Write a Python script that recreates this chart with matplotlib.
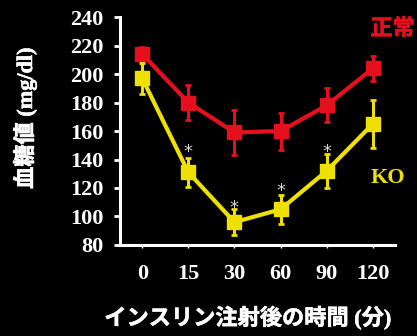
import matplotlib
matplotlib.use("Agg")
import matplotlib.pyplot as plt
import matplotlib.patheffects as pe

# data
time_labels = ["0", "15", "30", "60", "90", "120"]
normal_mean = [214, 180, 159, 160, 178, 204]
normal_err = [5, 12, 16, 13, 12, 9]
ko_mean = [197, 131, 96, 105, 132, 165]
ko_err = [11, 10, 9, 10, 12, 17]
star_idx = [1, 2, 3, 4]
star_y = [145, 106, 118, 145]

red = "#E60F1E"
yellow = "#EEE000"
fonts = ["Liberation Serif", "Noto Sans CJK JP", "DejaVu Sans"]
plt.rcParams["font.family"] = fonts
plt.rcParams["font.weight"] = "bold"

fig = plt.figure(figsize=(4.17, 3.36), dpi=100)
fig.patch.set_facecolor("black")
ax = fig.add_axes([0.288, 0.271, 0.659, 0.678])
ax.set_facecolor("black")

x = list(range(len(time_labels)))

ax.errorbar(x, normal_mean, yerr=normal_err, color=red, ecolor=red,
            lw=3, elinewidth=2.2, capsize=2, capthick=2,
            marker="s", ms=10.5, zorder=3)
ax.errorbar(x, ko_mean, yerr=ko_err, color=yellow, ecolor=yellow,
            lw=3, elinewidth=2.2, capsize=2, capthick=2,
            marker="s", ms=10.5, zorder=4)

for i, yv in zip(star_idx, star_y):
    ax.text(x[i], yv, "*", color="#d8d8d8", ha="center", va="center",
            fontsize=13, fontweight="normal", family="DejaVu Sans")

# a thin stroke makes the CJK glyphs a little heavier
bold_fx = lambda c: [pe.withStroke(linewidth=0.4, foreground=c)]

ax.text(5.43, 232, "正常", color=red, ha="center", va="center",
        fontsize=16, family=["Noto Sans CJK JP"], clip_on=False,
        path_effects=bold_fx(red))
ax.text(5.33, 127, "KO", color=yellow, ha="center", va="center",
        fontsize=16, clip_on=False)

ax.set_xlim(-0.48, 5.48)
ax.set_ylim(80, 240)
ax.set_yticks(range(80, 241, 20))
ax.set_xticks(x)
ax.set_xticklabels(time_labels)

for side in ["top", "right"]:
    ax.spines[side].set_visible(False)
for side in ["left", "bottom"]:
    ax.spines[side].set_color("white")
    ax.spines[side].set_linewidth(2.2)

ax.tick_params(axis="y", colors="white", length=4, width=2, pad=8, labelsize=16)
ax.tick_params(axis="x", colors="white", length=2, width=1, pad=12, labelsize=16)

fig.text(25 / 417, 1 - 118 / 336, "血糖値 (mg/dl)", color="white", fontsize=16,
         rotation=90, ha="center", va="center", path_effects=bold_fx("white"))
fig.text(248 / 417, 1 - 318 / 336, "インスリン注射後の時間 (分)", color="white",
         fontsize=16, ha="center", va="center", path_effects=bold_fx("white"))

fig.savefig("out.png", dpi=100, facecolor="black")
